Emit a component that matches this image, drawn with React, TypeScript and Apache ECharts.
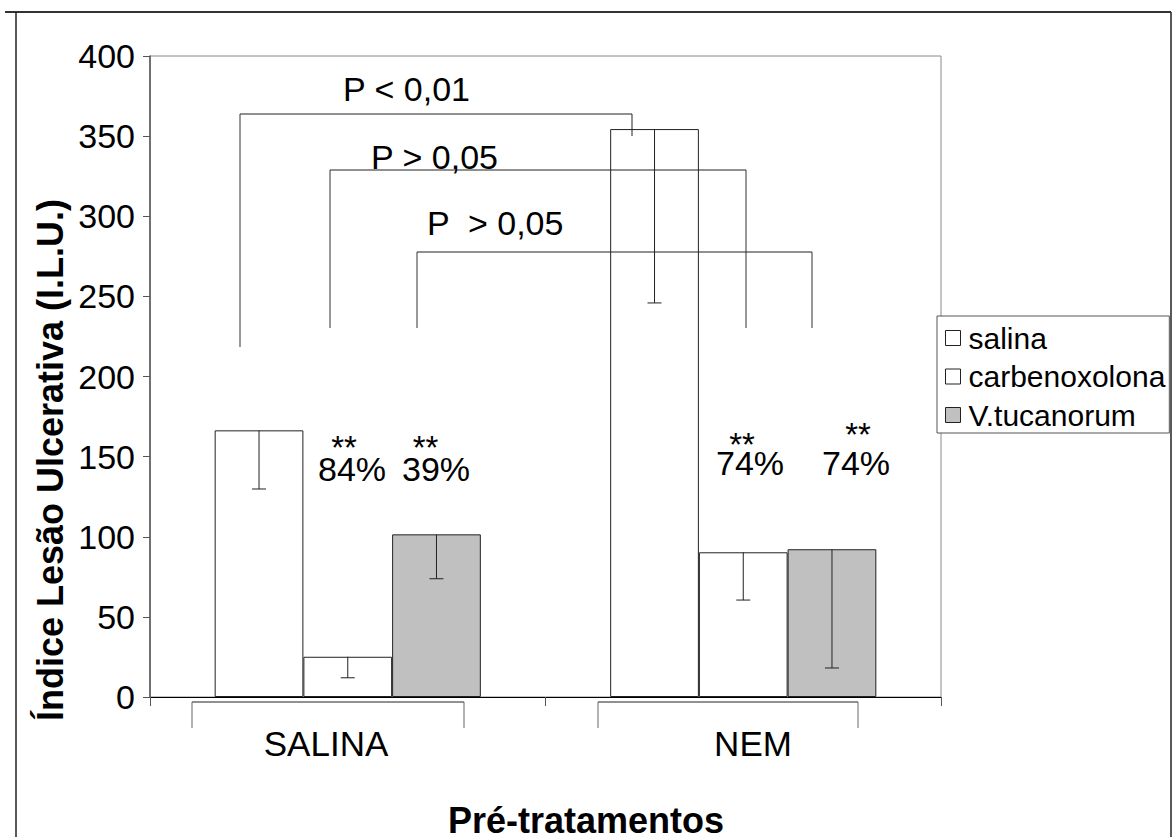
import React, { useEffect, useRef } from 'react';
import * as echarts from 'echarts';

const categories = ['SALINA', 'NEM'];
const seriesNames = ['salina', 'carbenoxolona', 'V.tucanorum'];
const salinaValues = [166.4, 354.4];
const carbenoxolonaValues = [25.1, 90.3];
const tucanorumValues = [101.5, 92.2];
const salinaErr = [36.6, 108.5];
const carbenoxolonaErr = [13.1, 29.8];
const tucanorumErr = [27.7, 74.1];
const yMin = 0;
const yMax = 400;
const yInterval = 50;
const percentLabels = ['84%', '39%', '74%', '74%'];
const starLabel = '**';
const pLabels = ['P < 0,01', 'P > 0,05', 'P  > 0,05'];
const xTitle = 'Pré-tratamentos';
const yTitle = 'Índice Lesão Ulcerativa (I.L.U.)';

const FONT = '"Liberation Sans", Arial, sans-serif';
const CAT_GAP = 0.327;

export default function App() {
  const ref = useRef<HTMLDivElement>(null);
  useEffect(() => {
    if (!ref.current) return;
    const chart = echarts.init(ref.current, undefined, { renderer: 'svg' });
    const values = [salinaValues, carbenoxolonaValues, tucanorumValues];
    const errs = [salinaErr, carbenoxolonaErr, tucanorumErr];
    const colors = ['#ffffff', '#ffffff', '#c0c0c0'];
    const errData: number[][] = [];
    for (let c = 0; c < categories.length; c++) {
      for (let s = 0; s < 3; s++) {
        errData.push([c, s, values[s][c], values[s][c] - errs[s][c]]);
      }
    }
    const lineStyle = { stroke: '#222', lineWidth: 1 };
    const vline = (x: number, y1: number, y2: number, stroke = '#333') => ({
      type: 'line', z: 10, shape: { x1: x, y1, x2: x, y2 }, style: { stroke, lineWidth: 1 }, silent: true,
    });
    const hline = (x1: number, x2: number, y: number, stroke = '#222') => ({
      type: 'line', z: 10, shape: { x1, y1: y, x2, y2: y }, style: { stroke, lineWidth: 1 }, silent: true,
    });
    const txt = (text: string, x: number, y: number, size: number, align = 'center', weight = 'normal', lh?: number) => ({
      type: 'text', x, y, z: 11, silent: true,
      style: {
        text, fill: '#000', font: `${weight} ${size}px ${FONT}`, align, verticalAlign: 'middle',
        lineHeight: lh ?? size,
      },
    });

    const graphics: any[] = [
      // outer frame
      { type: 'line', z: 10, shape: { x1: 5, y1: 12, x2: 1171, y2: 12 }, style: { stroke: '#333', lineWidth: 2 } },
      { type: 'line', z: 10, shape: { x1: 16, y1: 12, x2: 16, y2: 837 }, style: { stroke: '#222', lineWidth: 1.5 } },
      { type: 'line', z: 10, shape: { x1: 1171, y1: 12, x2: 1171, y2: 837 }, style: { stroke: '#222', lineWidth: 1.5 } },
      // significance brackets
      hline(240, 632, 114), vline(240, 114, 347), vline(632, 114, 136, '#222'),
      hline(330, 746, 170), vline(330, 170, 328), vline(746, 170, 328),
      hline(417, 812, 252), vline(417, 252, 328), vline(812, 252, 328),
      txt(pLabels[0], 343, 89, 34, 'left', 'normal', 30),
      txt(pLabels[1], 371, 156.5, 34, 'left', 'normal', 30),
      txt(pLabels[2], 427, 223, 34, 'left', 'normal', 30),
      // stars and percentages
      txt(starLabel, 344, 447, 33, 'center', 'normal', 12), txt(percentLabels[0], 352, 469, 34, 'center', 'normal', 26),
      txt(starLabel, 425.5, 447, 33, 'center', 'normal', 12), txt(percentLabels[1], 436, 469, 34, 'center', 'normal', 26),
      txt(starLabel, 742, 444.5, 33, 'center', 'normal', 12), txt(percentLabels[2], 750, 463, 34, 'center', 'normal', 26),
      txt(starLabel, 858, 434.5, 33, 'center', 'normal', 12), txt(percentLabels[3], 856, 463, 34, 'center', 'normal', 26),
      // category brackets and labels
      hline(192, 464, 702), vline(192, 702, 728, '#666'), vline(464, 702, 728, '#666'),
      hline(598, 858, 702), vline(598, 702, 728, '#666'), vline(858, 702, 728, '#666'),
      txt(categories[0], 326, 743, 35, 'center', 'normal', 30),
      txt(categories[1], 753, 743, 35, 'center', 'normal', 30),
      // titles
      txt(xTitle, 586, 820, 36, 'center', 'bold', 28),
      { ...txt(yTitle, 0, 0, 36, 'center', 'bold', 30), x: 50, y: 460, rotation: Math.PI / 2 },
    ];

    chart.setOption({
      animation: false,
      backgroundColor: '#ffffff',
      textStyle: { fontFamily: FONT },
      grid: {
        left: 150, top: 56, right: 232, bottom: 140,
        show: true, borderColor: '#888', borderWidth: 1, backgroundColor: 'transparent',
        containLabel: false, outerBoundsMode: 'none',
      },
      legend: {
        orient: 'vertical',
        left: 937, top: 316,
        padding: [7, 4, 3, 8],
        itemWidth: 15, itemHeight: 15, itemGap: 8.5,
        icon: 'rect',
        backgroundColor: '#fff',
        borderColor: '#555', borderWidth: 1,
        textStyle: { fontSize: 30, color: '#000', fontFamily: FONT, lineHeight: 30, padding: [0, 0, 0, 3] },
        itemStyle: { borderColor: '#222', borderWidth: 1 },
        data: seriesNames,
      },
      xAxis: {
        type: 'category',
        data: categories,
        boundaryGap: true,
        axisLine: { lineStyle: { color: '#000', width: 1 } },
        axisTick: { show: true, length: 9, lineStyle: { color: '#555' } },
        axisLabel: { show: false },
        splitLine: { show: false },
      },
      yAxis: {
        type: 'value',
        min: yMin, max: yMax, interval: yInterval,
        axisLine: { show: true, lineStyle: { color: '#555', width: 1.5 } },
        axisTick: { show: true, length: 7, lineStyle: { color: '#555' } },
        axisLabel: { fontSize: 34, color: '#000', margin: 15, fontFamily: FONT },
        splitLine: { show: false },
      },
      series: [
        ...seriesNames.map((name, i) => ({
          name,
          type: 'bar',
          data: values[i],
          barGap: '0%',
          barCategoryGap: `${CAT_GAP * 100}%`,
          itemStyle: { color: colors[i], borderColor: '#222', borderWidth: 1 },
          z: 2,
        })),
        {
          name: 'err',
          type: 'custom',
          data: errData,
          encode: { x: 0, y: [2, 3] },
          z: 5,
          renderItem: (params: any, api: any) => {
            const cat = api.value(0);
            const s = api.value(1);
            const top = api.coord([cat, api.value(2)]);
            const low = api.coord([cat, api.value(3)]);
            const catW = api.size([1, 0])[0];
            const bw = (catW * (1 - CAT_GAP)) / 3;
            const x = top[0] + (s - 1) * bw;
            return {
              type: 'group',
              children: [
                { type: 'line', shape: { x1: x, y1: top[1], x2: x, y2: low[1] }, style: lineStyle },
                { type: 'line', shape: { x1: x - 7, y1: low[1], x2: x + 7, y2: low[1] }, style: lineStyle },
              ],
            };
          },
        },
      ],
      graphic: graphics,
    });
    return () => chart.dispose();
  }, []);
  return <div ref={ref} style={{ position: 'absolute', left: 0, top: 0, width: 1173, height: 837 }} />;
}
